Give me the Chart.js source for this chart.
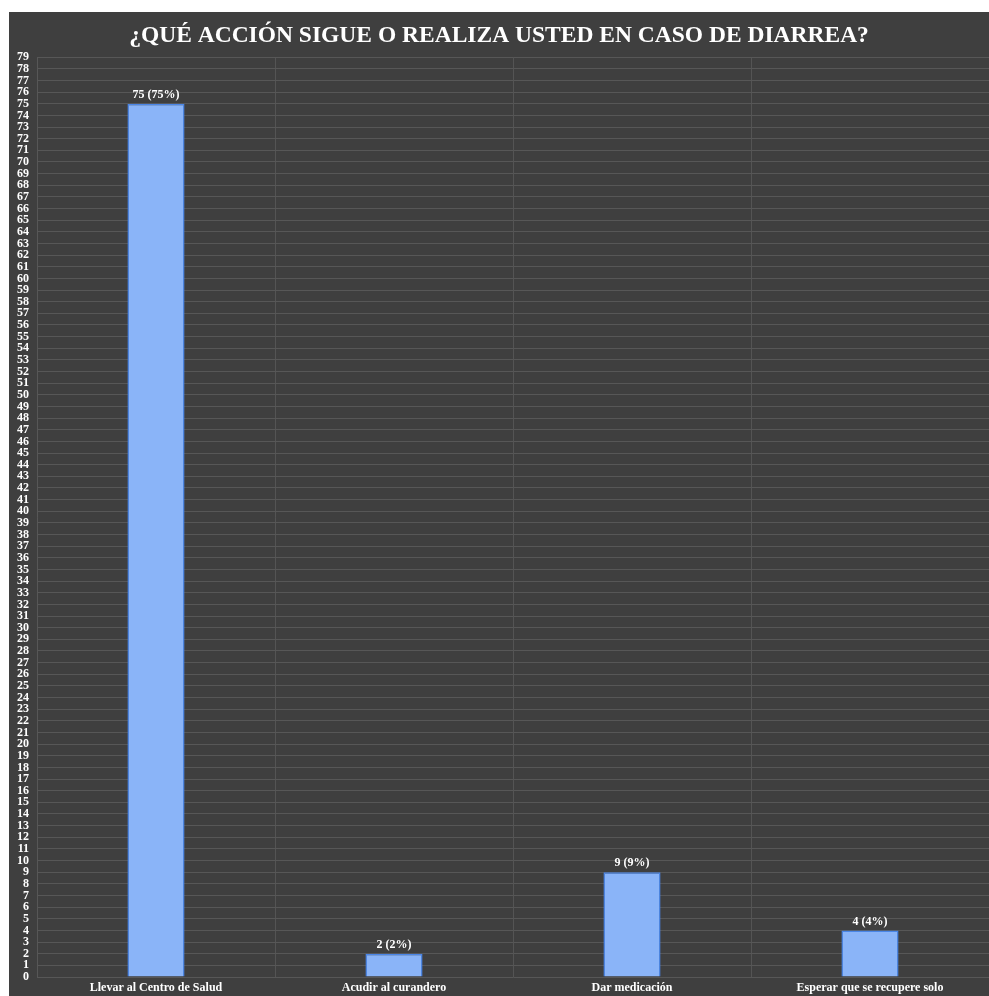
<!DOCTYPE html>
<html>
<head>
<meta charset="utf-8">
<script src="https://cdn.jsdelivr.net/npm/chart.js@4"></script>
<style>
  html, body { margin: 0; padding: 0; background: #ffffff; }
  #wrap { position: absolute; left: 9px; top: 12px; width: 980px; height: 984px; background: #3f3f3f; }
  canvas { display: block; }
</style>
</head>
<body>
<div id="wrap"><canvas id="c" width="980" height="984"></canvas></div>
<script>
const categories = ["Llevar al Centro de Salud", "Acudir al curandero", "Dar medicación", "Esperar que se recupere solo"];
const counts = [75, 2, 9, 4];
const percents = [75, 2, 9, 4];
const yMax = 79;

const FONT = "'Liberation Serif', 'Times New Roman', serif";

// Draws "n (p%)" above each bar
const valueLabels = {
  id: 'valueLabels',
  afterDatasetsDraw(chart) {
    const ctx = chart.ctx;
    const meta = chart.getDatasetMeta(0);
    ctx.save();
    ctx.fillStyle = '#ffffff';
    ctx.font = "bold 12px " + FONT;
    ctx.textAlign = 'center';
    ctx.textBaseline = 'bottom';
    meta.data.forEach((bar, i) => {
      ctx.fillText(counts[i] + ' (' + percents[i] + '%)', bar.x, bar.y - 3);
    });
    ctx.restore();
  }
};

new Chart(document.getElementById('c'), {
  type: 'bar',
  data: {
    labels: categories,
    datasets: [{
      data: counts,
      backgroundColor: '#8ab4f8',
      borderColor: '#4a86e8',
      borderWidth: 1.5,
      categoryPercentage: 1,
      barPercentage: 0.24
    }]
  },
  options: {
    responsive: false,
    animation: false,
    layout: { padding: { left: 0, right: 0, top: 0, bottom: 0 } },
    plugins: {
      legend: { display: false },
      tooltip: { enabled: false },
      title: {
        display: true,
        text: '¿QUÉ ACCIÓN SIGUE O REALIZA USTED EN CASO DE DIARREA?',
        color: '#ffffff',
        font: { family: FONT, size: 23.5, weight: 'bold' },
        padding: { top: 10, bottom: 7 }
      }
    },
    scales: {
      x: {
        grid: { color: '#545454', lineWidth: 1, drawTicks: false, offset: true },
        border: { display: false },
        ticks: {
          color: '#ffffff',
          font: { family: FONT, size: 12, weight: 'bold' },
          padding: 4,
          maxRotation: 0,
          autoSkip: false
        },
        afterFit(scale) { scale.height = 19; }
      },
      y: {
        min: 0,
        max: yMax,
        grid: { color: '#575757', lineWidth: 1, drawTicks: false },
        border: { display: true, color: '#575757' },
        ticks: {
          stepSize: 1,
          autoSkip: false,
          color: '#ffffff',
          font: { family: FONT, size: 12, weight: 'bold' },
          padding: 8
        },
        afterFit(scale) { scale.width = 28; }
      }
    }
  },
  plugins: [valueLabels]
});
</script>
</body>
</html>
